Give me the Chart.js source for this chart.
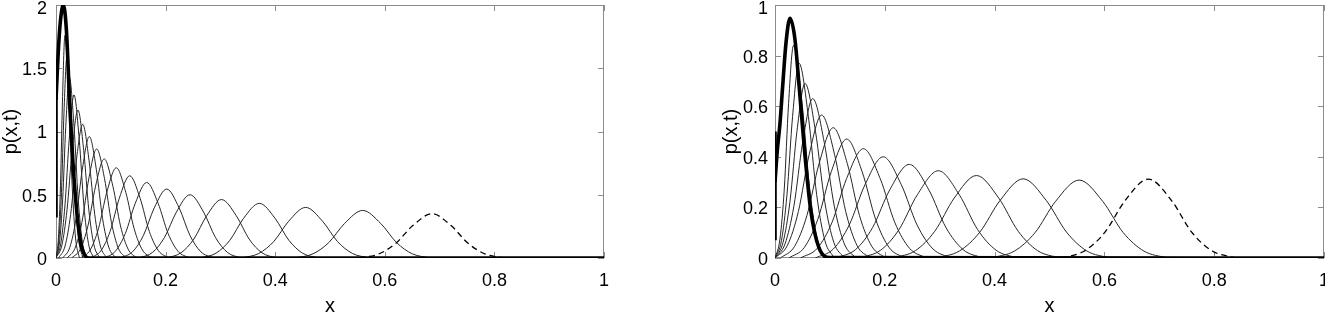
<!DOCTYPE html>
<html>
<head>
<meta charset="utf-8">
<script src="https://cdn.jsdelivr.net/npm/chart.js@4.4.1/dist/chart.umd.min.js"></script>
<style>
body { margin: 0; background: #fff; width: 1325px; height: 313px; overflow: hidden; position: relative; }
canvas { position: absolute; top: 0; }
#leftChart { left: 0; }
#rightChart { left: 720px; }
</style>
</head>
<body>
<canvas id="leftChart" width="610" height="313"></canvas>
<canvas id="rightChart" width="605" height="313"></canvas>
<script>
// tick values / labels
const xTicks = [0, 0.2, 0.4, 0.6, 0.8, 1];
const xTickLabels = ['0', '0.2', '0.4', '0.6', '0.8', '1'];
const leftYTicks = [0, 0.5, 1, 1.5, 2];
const leftYLabels = ['0', '0.5', '1', '1.5', '2'];
const rightYTicks = [0, 0.2, 0.4, 0.6, 0.8, 1];
const rightYLabels = ['0', '0.2', '0.4', '0.6', '0.8', '1'];

// left panel : thin curves as [x, p] points
const leftCurves = [
  [[0,0],[0.0044,0.157],[0.0082,0.572],[0.0120,1.278],[0.0163,1.76],[0.0233,1.278],[0.0295,0.572],[0.0357,0.157],[0.0427,0]],
  [[0,0],[0.0053,0.142],[0.0100,0.517],[0.0146,1.154],[0.0199,1.59],[0.0277,1.154],[0.0345,0.517],[0.0414,0.142],[0.0492,0]],
  [[0,0],[0.0065,0.127],[0.0122,0.465],[0.0178,1.038],[0.0243,1.43],[0.0329,1.038],[0.0405,0.465],[0.0481,0.127],[0.0567,0]],
  [[0,0],[0.0088,0.115],[0.0164,0.419],[0.0241,0.937],[0.0328,1.29],[0.0424,0.937],[0.0508,0.419],[0.0592,0.115],[0.0688,0]],
  [[0,0],[0.0109,0.104],[0.0201,0.380],[0.0294,0.849],[0.0400,1.17],[0.0506,0.849],[0.0599,0.380],[0.0692,0.104],[0.0798,0]],
  [[0.0047,0],[0.0165,0.094],[0.0267,0.344],[0.0370,0.767],[0.0487,1.057],[0.0604,0.767],[0.0707,0.344],[0.0810,0.094],[0.0927,0]],
  [[0.0124,0],[0.0253,0.085],[0.0366,0.312],[0.0479,0.697],[0.0608,0.96],[0.0737,0.697],[0.0850,0.312],[0.0963,0.085],[0.1093,0]],
  [[0.0202,0],[0.0346,0.077],[0.0472,0.280],[0.0598,0.626],[0.0742,0.862],[0.0886,0.626],[0.1012,0.280],[0.1138,0.077],[0.1282,0]],
  [[0.0286,0],[0.0444,0.070],[0.0583,0.254],[0.0722,0.568],[0.0880,0.783],[0.1038,0.568],[0.1177,0.254],[0.1316,0.070],[0.1474,0]],
  [[0.0449,0],[0.0623,0.063],[0.0775,0.232],[0.0926,0.518],[0.1100,0.713],[0.1274,0.518],[0.1426,0.232],[0.1577,0.063],[0.1751,0]],
  [[0.0631,0],[0.0821,0.058],[0.0988,0.211],[0.1155,0.472],[0.1345,0.65],[0.1535,0.472],[0.1702,0.211],[0.1869,0.058],[0.2059,0]],
  [[0.0875,0],[0.1083,0.053],[0.1265,0.194],[0.1447,0.433],[0.1655,0.597],[0.1863,0.433],[0.2045,0.194],[0.2227,0.053],[0.2435,0]],
  [[0.1168,0],[0.1395,0.0485],[0.1594,0.177],[0.1793,0.396],[0.2020,0.545],[0.2247,0.396],[0.2446,0.177],[0.2645,0.0485],[0.2872,0]],
  [[0.1515,0],[0.1763,0.0445],[0.1980,0.1625],[0.2197,0.363],[0.2445,0.50],[0.2693,0.363],[0.2910,0.1625],[0.3127,0.0445],[0.3375,0]],
  [[0.2012,0],[0.2281,0.041],[0.2516,0.150],[0.2751,0.335],[0.3020,0.462],[0.3289,0.335],[0.3524,0.150],[0.3759,0.041],[0.4028,0]],
  [[0.2633,0],[0.2920,0.038],[0.3172,0.140],[0.3423,0.314],[0.3710,0.432],[0.3997,0.314],[0.4249,0.140],[0.4500,0.038],[0.4787,0]],
  [[0.3391,0],[0.3701,0.036],[0.3973,0.130],[0.4245,0.290],[0.4555,0.40],[0.4865,0.290],[0.5137,0.130],[0.5409,0.036],[0.5719,0]],
  [[0.4360,0],[0.4690,0.033],[0.4978,0.122],[0.5266,0.273],[0.5596,0.376],[0.5926,0.273],[0.6214,0.122],[0.6502,0.033],[0.6832,0]]
];
const leftDashed = [[0.5531,0],[0.5885,0.031],[0.6196,0.114],[0.6506,0.254],[0.686,0.35],[0.7214,0.254],[0.7525,0.114],[0.7835,0.031],[0.8189,0]];
const leftThick = [[0,1.25],[0.004,1.62],[0.008,1.87],[0.0134,2.0],[0.019,1.8],[0.0255,1.17],[0.031,0.75],[0.0378,0.37],[0.045,0.12],[0.052,0.025],[0.06,0],[1,0]];
const leftEdge = [[0,0.32],[0,1.29]];

// right panel
const rightCurves = [
  [[0,0],[0.0090,0.075],[0.0169,0.273],[0.0247,0.610],[0.0337,0.84],[0.0494,0.610],[0.0632,0.273],[0.0769,0.075],[0.0926,0]],
  [[0,0],[0.0117,0.0685],[0.0218,0.250],[0.0320,0.559],[0.0437,0.77],[0.0608,0.559],[0.0759,0.250],[0.0909,0.0685],[0.1080,0]],
  [[0,0],[0.0146,0.0614],[0.0273,0.224],[0.0400,0.501],[0.0546,0.69],[0.0737,0.501],[0.0905,0.224],[0.1072,0.0614],[0.1263,0]],
  [[0,0],[0.0183,0.0561],[0.0344,0.205],[0.0504,0.457],[0.0687,0.63],[0.0897,0.457],[0.1080,0.205],[0.1263,0.0561],[0.1473,0]],
  [[0,0],[0.0227,0.0503],[0.0426,0.184],[0.0624,0.410],[0.0850,0.565],[0.1084,0.410],[0.1288,0.184],[0.1492,0.0503],[0.1726,0]],
  [[0.0100,0],[0.0356,0.0458],[0.0580,0.167],[0.0804,0.374],[0.1060,0.515],[0.1316,0.374],[0.1540,0.167],[0.1764,0.0458],[0.2020,0]],
  [[0.0253,0],[0.0534,0.0418],[0.0780,0.153],[0.1025,0.341],[0.1306,0.47],[0.1587,0.341],[0.1833,0.153],[0.2078,0.0418],[0.2359,0]],
  [[0.0464,0],[0.0770,0.0384],[0.1037,0.140],[0.1304,0.314],[0.1610,0.432],[0.1916,0.314],[0.2183,0.140],[0.2450,0.0384],[0.2756,0]],
  [[0.0733,0],[0.1063,0.0356],[0.1351,0.130],[0.1640,0.290],[0.1970,0.40],[0.2300,0.290],[0.2589,0.130],[0.2878,0.0356],[0.3208,0]],
  [[0.1108,0],[0.1465,0.0329],[0.1777,0.120],[0.2089,0.269],[0.2446,0.37],[0.2803,0.269],[0.3115,0.120],[0.3427,0.0329],[0.3784,0]],
  [[0.1541,0],[0.1923,0.0307],[0.2258,0.112],[0.2593,0.250],[0.2975,0.345],[0.3357,0.250],[0.3692,0.112],[0.4027,0.0307],[0.4409,0]],
  [[0.2152,0],[0.2557,0.029],[0.2911,0.106],[0.3265,0.237],[0.3670,0.326],[0.4075,0.237],[0.4429,0.106],[0.4783,0.029],[0.5188,0]],
  [[0.2939,0],[0.3361,0.0279],[0.3730,0.102],[0.4098,0.227],[0.4520,0.313],[0.4942,0.227],[0.5311,0.102],[0.5679,0.0279],[0.6101,0]],
  [[0.3932,0],[0.4361,0.0274],[0.4736,0.100],[0.5111,0.224],[0.5540,0.308],[0.5969,0.224],[0.6344,0.100],[0.6719,0.0274],[0.7148,0]]
];
const rightDashed = [[0.5213,0],[0.5636,0.0278],[0.6007,0.101],[0.6377,0.227],[0.680,0.312],[0.7223,0.227],[0.7594,0.101],[0.7964,0.0278],[0.8387,0]];
const rightThick = [[0,0.3],[0.004,0.42],[0.009,0.53],[0.014,0.68],[0.02,0.85],[0.0273,0.947],[0.036,0.87],[0.0445,0.665],[0.054,0.42],[0.065,0.19],[0.08,0.041],[0.1,0.002],[1,0]];
const rightEdge = [[0,0.07],[0,0.50]];

const FONT = "'Liberation Sans', Arial, Helvetica, sans-serif";

function toPts(arr) {
  return arr.map(p => ({ x: p[0], y: p[1] }));
}

// box + inward ticks, drawn under the curves
const framePlugin = {
  id: 'frame',
  beforeDraw(chart) {
    // push the top y label a little down so it stays inside the figure
    const ys = chart.scales.y;
    const items = ys.getLabelItems(chart.chartArea);
    const top = items[items.length - 1];
    if (top && !top._moved) {
      top.options.translation[1] += 2.5;
      top._moved = true;
    }
  },
  beforeDatasetsDraw(chart) {
    const { ctx, chartArea: a, scales } = chart;
    ctx.save();
    ctx.strokeStyle = '#8c8c8c';
    ctx.lineWidth = 1;
    ctx.strokeRect(a.left + 0.5, a.top + 0.5, a.right - a.left - 1, a.bottom - a.top - 1);
    ctx.beginPath();
    scales.x.ticks.forEach(t => {
      const px = Math.round(scales.x.getPixelForValue(t.value)) + 0.5;
      ctx.moveTo(px, a.bottom); ctx.lineTo(px, a.bottom - 6);
      ctx.moveTo(px, a.top); ctx.lineTo(px, a.top + 6);
    });
    scales.y.ticks.forEach(t => {
      const py = Math.round(scales.y.getPixelForValue(t.value)) + 0.5;
      ctx.moveTo(a.left, py); ctx.lineTo(a.left + 6, py);
      ctx.moveTo(a.right, py); ctx.lineTo(a.right - 6, py);
    });
    ctx.stroke();
    ctx.restore();
  }
};

function makeChart(id, p) {
  const datasets = [];
  // thick first -> drawn on top
  datasets.push({ data: toPts(p.thick), borderColor: '#000', borderWidth: 3.6, cubicInterpolationMode: 'monotone' });
  datasets.push({ data: toPts(p.edge), borderColor: '#000', borderWidth: 3.6, tension: 0 });
  datasets.push({ data: toPts(p.dashed), borderColor: '#000', borderWidth: 1.3, borderDash: [6, 4], cubicInterpolationMode: 'monotone' });
  p.curves.forEach(c => {
    datasets.push({ data: toPts(c), borderColor: '#262626', borderWidth: 1, cubicInterpolationMode: 'monotone' });
  });
  datasets.forEach(d => { d.pointRadius = 0; d.fill = false; });

  return new Chart(document.getElementById(id), {
    type: 'line',
    data: { datasets: datasets },
    options: {
      responsive: false,
      animation: false,
      layout: { padding: { top: 5, right: p.padRight, left: 0, bottom: 0 } },
      plugins: { legend: { display: false }, tooltip: { enabled: false } },
      scales: {
        x: {
          type: 'linear', min: 0, max: 1,
          grid: { display: false, drawTicks: false },
          border: { display: false },
          afterBuildTicks: s => { s.ticks = xTicks.map(v => ({ value: v })); },
          afterFit: s => { s.height = 55; s.paddingLeft = 0; s.paddingRight = 0; },
          ticks: {
            padding: 12, color: '#000', maxRotation: 0,
            font: { family: FONT, size: 18 },
            callback: (v, i) => xTickLabels[i]
          },
          title: { display: true, text: 'x', color: '#000', font: { family: FONT, size: 20 }, padding: { top: 0, bottom: -5 } }
        },
        y: {
          type: 'linear', min: 0, max: p.yMax,
          grid: { display: false, drawTicks: false },
          border: { display: false },
          afterBuildTicks: s => { s.ticks = p.yTicks.map(v => ({ value: v })); },
          afterFit: s => { s.width = p.yWidth; s.paddingTop = 0; s.paddingBottom = 0; },
          ticks: {
            padding: p.yPad, color: '#000', labelOffset: 2,
            font: { family: FONT, size: 18 },
            callback: (v, i) => p.yLabels[i]
          },
          title: { display: true, text: 'p(x,t)', color: '#000', font: { family: FONT, size: 20 }, padding: { top: -1, bottom: 0 } }
        }
      }
    },
    plugins: [framePlugin]
  });
}

makeChart('leftChart', {
  curves: leftCurves, dashed: leftDashed, thick: leftThick, edge: leftEdge,
  yMax: 2, yTicks: leftYTicks, yLabels: leftYLabels, yWidth: 56, yPad: 9, padRight: 6
});
makeChart('rightChart', {
  curves: rightCurves, dashed: rightDashed, thick: rightThick, edge: rightEdge,
  yMax: 1, yTicks: rightYTicks, yLabels: rightYLabels, yWidth: 55, yPad: 7, padRight: 1
});
</script>
</body>
</html>
